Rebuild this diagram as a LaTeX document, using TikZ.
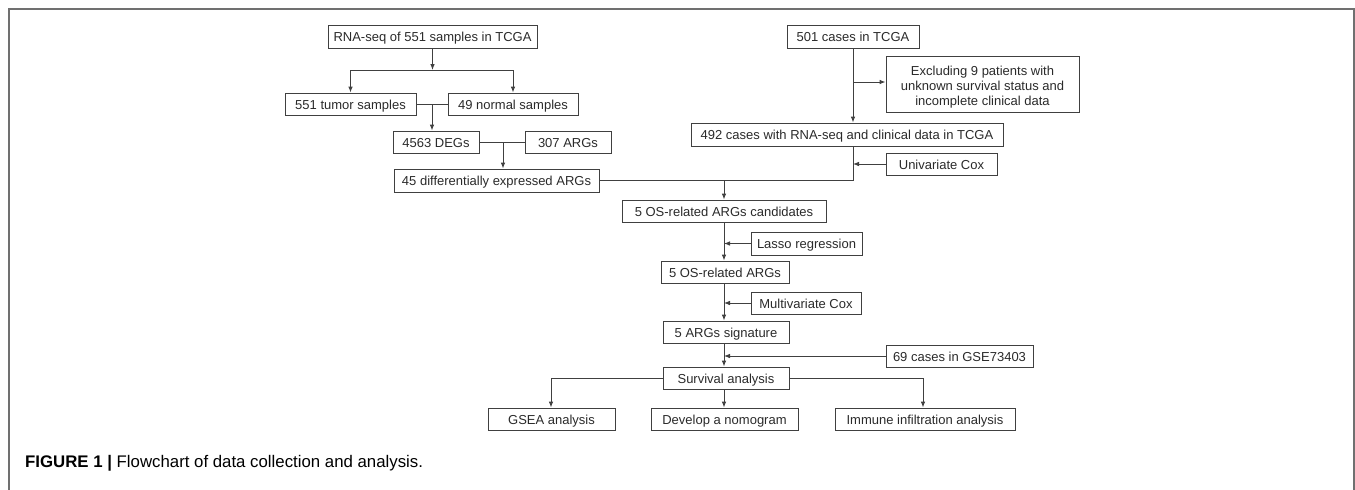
\documentclass[tikz,border=0pt]{standalone}
\usepackage{fontspec}
\setmainfont{Liberation Sans}
\usetikzlibrary{arrows.meta}
\definecolor{boxline}{HTML}{404040}
\definecolor{txt}{HTML}{2A2A2A}
\definecolor{framec}{HTML}{707070}
\tikzset{
  fbox/.style={draw=boxline, line width=0.9pt, inner sep=0pt, text=txt,
    font=\fontsize{13}{15}\selectfont, text height=11pt, text depth=1pt},
  mbox/.style={draw=boxline, line width=0.9pt, inner sep=0pt, text=txt,
    font=\fontsize{13}{15}\selectfont},
  conn/.style={draw=boxline, line width=0.9pt},
  arr/.style={conn, -{Latex[length=6pt,width=4.6pt]}},
}
\begin{document}
\begin{tikzpicture}[x=1pt,y=-1pt]
\useasboundingbox (0,0) rectangle (1355,490);
\draw[framec, line width=1.4pt] (9,490) -- (9,9) -- (1354,9) -- (1354,490);

% left chain
\node[fbox, minimum width=209pt, minimum height=23pt] (rna) at (432.5,36.5) {RNA-seq of 551 samples in TCGA};
\node[fbox, minimum width=131pt, minimum height=22pt] (tumor) at (350.5,104) {551 tumor samples};
\node[fbox, minimum width=130pt, minimum height=22pt] (normal) at (513,104) {49 normal samples};
\node[fbox, minimum width=86pt, minimum height=22pt] (degs) at (436,142) {4563 DEGs};
\node[fbox, minimum width=86pt, minimum height=22pt] (args) at (568,142) {307 ARGs};
\node[fbox, minimum width=205pt, minimum height=23pt] (dea) at (496.5,180.5) {45 differentially expressed ARGs};

% right chain
\node[fbox, minimum width=132pt, minimum height=23pt] (c501) at (853,36.5) {501 cases in TCGA};
\node[mbox, minimum width=193pt, minimum height=56pt] (excl) at (982.5,84)
  {\raisebox{-6.2pt}[0pt][0pt]{\begin{tabular}{@{}c@{}}Excluding 9 patients with\\unknown survival status and\\incomplete clinical data\end{tabular}}};
\node[fbox, minimum width=312pt, minimum height=23pt] (c492) at (847,134.5) {492 cases with RNA-seq and clinical data in TCGA};
\node[fbox, minimum width=111pt, minimum height=22pt] (univ) at (941.5,164) {Univariate Cox};

% middle chain
\node[fbox, minimum width=204pt, minimum height=22pt] (cand) at (724,211) {5 OS-related ARGs candidates};
\node[fbox, minimum width=111pt, minimum height=23pt] (lasso) at (806.5,243.5) {Lasso regression};
\node[fbox, minimum width=128pt, minimum height=22pt] (osr) at (725,272) {5 OS-related ARGs};
\node[fbox, minimum width=110pt, minimum height=22pt] (multi) at (806,303) {Multivariate Cox};
\node[fbox, minimum width=126pt, minimum height=22pt] (sig) at (726,332) {5 ARGs signature};
\node[fbox, minimum width=147pt, minimum height=22pt] (gse) at (959.5,356) {69 cases in GSE73403};
\node[fbox, minimum width=126pt, minimum height=22pt] (surv) at (726,378) {Survival analysis};
\node[fbox, minimum width=127pt, minimum height=22pt] (gsea) at (551.5,419) {GSEA analysis};
\node[fbox, minimum width=147pt, minimum height=22pt] (nomo) at (724.5,419) {Develop a nomogram};
\node[fbox, minimum width=180pt, minimum height=22pt] (immune) at (925,419) {Immune infiltration analysis};

% coordinates
\coordinate (s1) at (432.5,70);
\coordinate (j1) at (432,104);
\coordinate (j2) at (503,142);
\coordinate (rv) at (853,82);
\coordinate (ru) at (853,164);
\coordinate (jm) at (853,180.5);
\coordinate (jc) at (724,180.5);
\coordinate (ml) at (724,243.5);
\coordinate (mm) at (724,303);
\coordinate (mg) at (724,356);
\coordinate (bl) at (551,378);
\coordinate (br) at (923,378);

% left connectors
\draw[arr] (rna.south) -- (s1);
\draw[arr] (s1) -| (tumor.north);
\draw[arr] (s1) -| (normal.north);
\draw[conn] (tumor.east) -- (normal.west);
\draw[arr] (j1) -- (j1 |- degs.north);
\draw[conn] (degs.east) -- (args.west);
\draw[arr] (j2) -- (j2 |- dea.north);

% right connectors
\draw[arr] (c501.south) -- (c501.south |- c492.north);
\draw[arr] (rv) -- (rv -| excl.west);
\draw[conn] (c501.south |- c492.south) -- (jm);
\draw[arr] (univ.west) -- (ru);
\draw[conn] (dea.east) -- (jm);
\draw[arr] (jc) -- (jc |- cand.north);

% middle connectors
\draw[arr] (jc |- cand.south) -- (jc |- osr.north);
\draw[arr] (lasso.west) -- (ml);
\draw[arr] (jc |- osr.south) -- (jc |- sig.north);
\draw[arr] (multi.west) -- (mm);
\draw[arr] (jc |- sig.south) -- (jc |- surv.north);
\draw[arr] (gse.west) -- (mg);
\draw[conn] (surv.west) -- (bl);
\draw[arr] (bl) -- (bl |- gsea.north);
\draw[conn] (surv.east) -- (br);
\draw[arr] (br) -- (br |- immune.north);
\draw[arr] (jc |- surv.south) -- (jc |- nomo.north);

% caption
\node[anchor=base west, inner sep=0pt, font=\fontsize{16.8}{20}\selectfont, text=black] (cap) at (25,467)
  {\textbf{FIGURE 1 |} Flowchart of data collection and analysis.};
\end{tikzpicture}
\end{document}
